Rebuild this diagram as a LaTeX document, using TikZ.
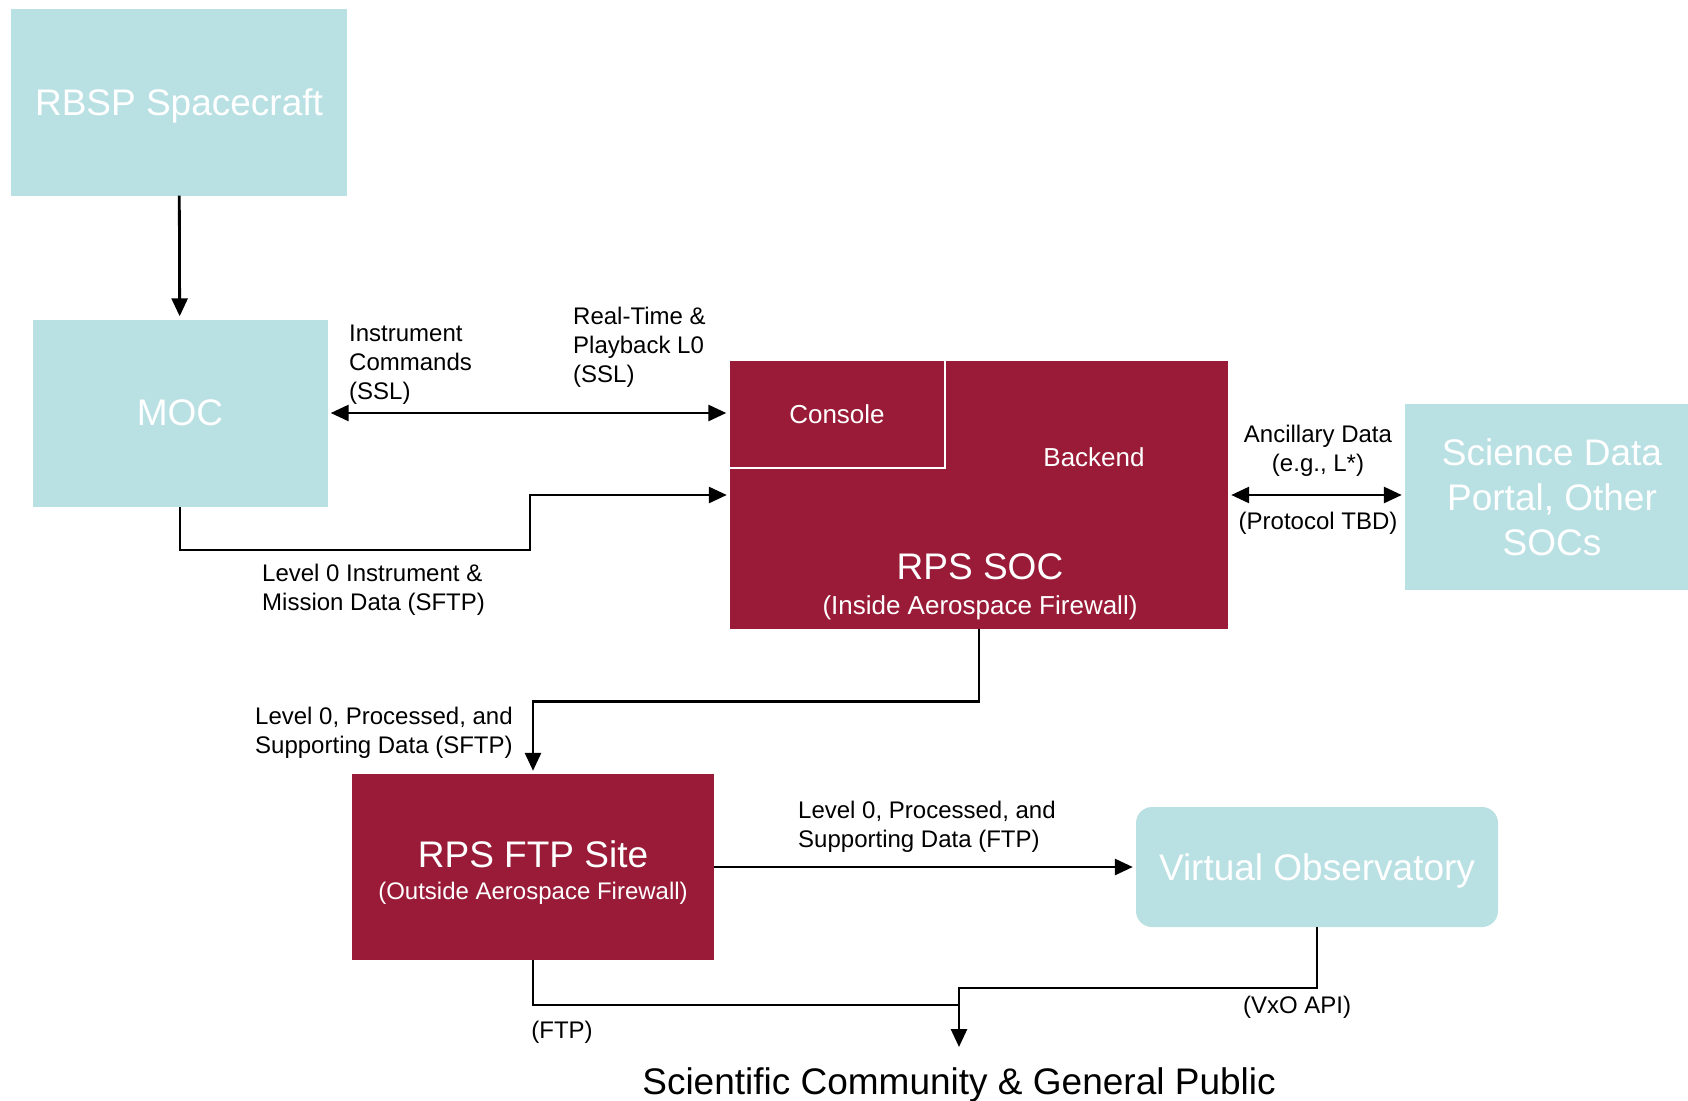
\documentclass[tikz,border=0pt]{standalone}
\usepackage{fontspec}
\setmainfont{Liberation Sans}
\usetikzlibrary{positioning}
\usetikzlibrary{arrows.meta}
\definecolor{sky}{RGB}{185,224,227}
\definecolor{wine}{RGB}{154,27,56}

\begin{document}
\begin{tikzpicture}[x=1pt,y=-1pt,
  box/.style={inner sep=0pt,text=white,align=center,font=\fontsize{37}{45}\selectfont},
  pale/.style={box,fill=sky,text depth=0pt},
  dark/.style={box,fill=wine},
  small/.style={font=\fontsize{26}{31}\selectfont},
  note/.style={inner sep=0pt,align=left,font=\fontsize{24}{29}\selectfont},
  link/.style={line width=2.8pt,-{Triangle[length=18pt,width=16pt]},shorten >=3pt},
  both/.style={link,{Triangle[length=18pt,width=16pt]}-{Triangle[length=18pt,width=16pt]},shorten <=3pt}]

  \useasboundingbox (0,0) rectangle (1688,1100);

  % Boxes
  \node[pale,minimum width=336pt,minimum height=187pt] (rbsp) at (179,102) {RBSP Spacecraft};
  \node[pale,minimum width=295pt,minimum height=187pt] (moc) at (180,413) {MOC};
  \node[dark,minimum width=498pt,minimum height=268pt] (soc) at (979,495) {};
  \node[box,small,minimum width=215pt,minimum height=107pt] (console) at (837,414) {Console};
  \draw[white,line width=2pt] (console.north east) -- (console.south east) -- (console.south west);
  \node[box,small] (backend) at (1094,457) {Backend};
  \node[box] (soctitle) at (980,567) {RPS SOC};
  \node[box,small] (socsub) at (980,608) {(Inside Aerospace Firewall)};
  \node[pale,minimum width=294pt,minimum height=186pt] (portal) at (1552,497) {Science Data\\Portal, Other\\SOCs};
  \node[dark,minimum width=362pt,minimum height=186pt] (ftp) at (533,867) {};
  \node[box] (ftptitle) at (533,854) {RPS FTP Site};
  \node[box,font=\fontsize{24}{28}\selectfont] (ftpsub) at (533,893) {(Outside Aerospace Firewall)};
  \node[pale,rounded corners=16pt,minimum width=362pt,minimum height=120pt] (vo) at (1317,867) {Virtual Observatory};
  \node[inner sep=0pt,anchor=base,font=\fontsize{37}{45}\selectfont] (public) at (959,1094) {Scientific Community \& General Public};

  % Links
  \coordinate (k1) at (530,550);
  \coordinate (k2) at (959,1005);
  \coordinate (j) at (959,988);
  \draw[link] (rbsp) -- (moc);
  \draw[both] (moc.east) -- (moc.east -| console.west);
  \draw[link] (moc.south) |- (k1) |- (soc.west);
  \draw[both] (soc.east) -- (soc.east -| portal.west);
  \draw[link] (soc.south) -- ++(0,72) -| (ftp.north);
  \draw[link] (ftp) -- (vo);
  \draw[line width=2.8pt] (ftp.south) |- (k2);
  \draw[link,shorten >=20pt] (vo.south) |- (j) -- (public.north);

  \node[note,anchor=west] (cmdlbl) at (349,365) {Instrument\\Commands\\(SSL)};
  \node[note,anchor=west] (rtlbl) at (573,347) {Real-Time \&\\Playback L0\\(SSL)};
  \node[note,anchor=west] (l0lbl) at (262,590) {Level 0 Instrument \&\\Mission Data (SFTP)};
  \node[note,align=center] (anclbl) at (1318,451) {Ancillary Data\\(e.g., L*)};
  \node[note] (protlbl) at (1318,523) {(Protocol TBD)};
  \node[note,anchor=west] (soclbl) at (255,733) {Level 0, Processed, and\\Supporting Data (SFTP)};
  \node[note,anchor=west] (ftplbl) at (798,827) {Level 0, Processed, and\\Supporting Data (FTP)};
  \node[note] (ftplink) at (562,1032) {(FTP)};
  \node[note] (vxolbl) at (1297,1007) {(VxO API)};
  % \node[note] at (959,950) {};

\end{tikzpicture}
\end{document}
